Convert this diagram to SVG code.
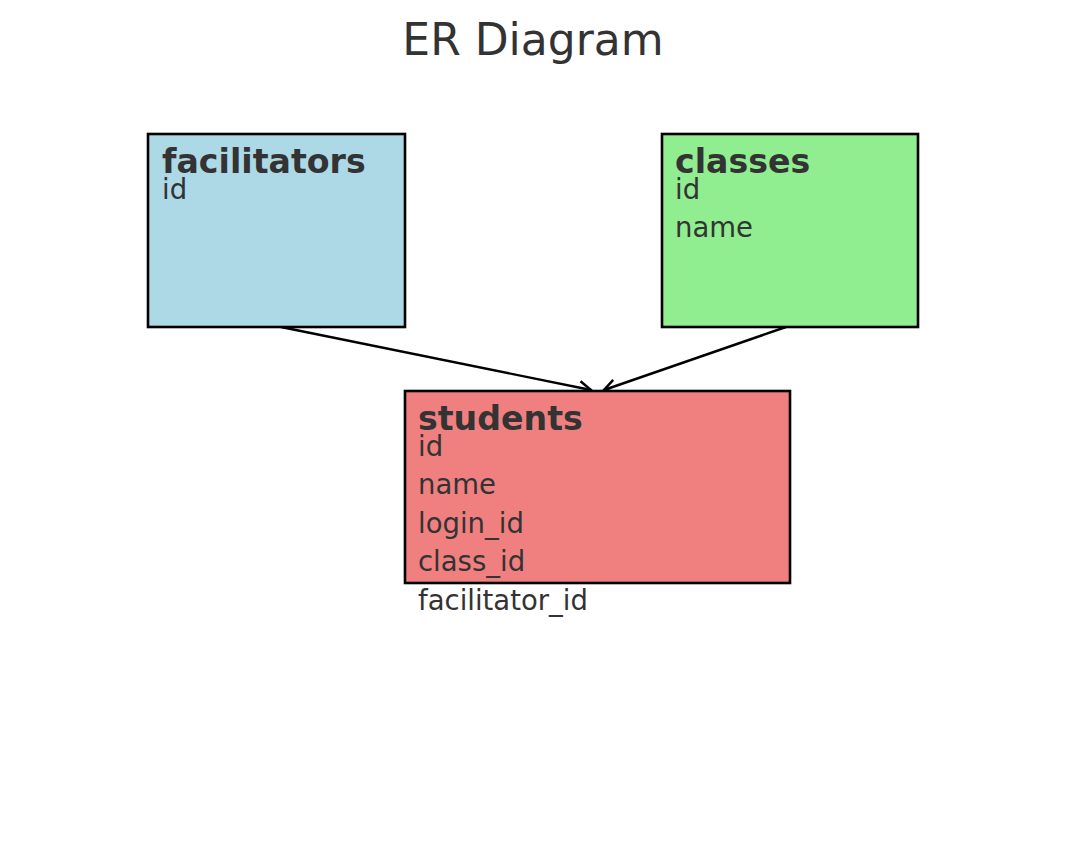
<svg xmlns="http://www.w3.org/2000/svg" width="1066" height="860" viewBox="0 0 1066 860">
<style>
text{font-family:"DejaVu Sans",sans-serif;fill:#333333}
.title{font-size:44px}
.hdr{font-size:33.2px;font-weight:bold}
.attr{font-size:27.5px}
.box{stroke:#000;stroke-width:2.6}
.edge{stroke:#000;stroke-width:2.4;fill:none}
</style>
<defs>
<marker id="arr" markerWidth="16" markerHeight="16" refX="13" refY="8" orient="auto" markerUnits="userSpaceOnUse">
<path d="M1,1.5 L13,8 L1,14.5" fill="none" stroke="#000" stroke-width="2.4"/>
</marker>
</defs>
<rect width="1066" height="860" fill="#fff"/>
<text class="title" x="533" y="55" text-anchor="middle">ER Diagram</text>
<g id="connectors">
<line class="edge" x1="281" y1="327" x2="591" y2="390" marker-end="url(#arr)"/>
<line class="edge" x1="786" y1="327" x2="604" y2="390" marker-end="url(#arr)"/>
</g>
<g id="facilitators">
<rect class="box" x="148" y="134" width="257" height="193" fill="#ADD8E6"/>
<text class="hdr" x="162" y="173">facilitators</text>
<text class="attr" x="162" y="199">id</text>
</g>
<g id="classes">
<rect class="box" x="662" y="134" width="256" height="193" fill="#90EE90"/>
<text class="hdr" x="675" y="173">classes</text>
<text class="attr" x="675" y="199">id</text>
<text class="attr" x="675" y="237">name</text>
</g>
<g id="students">
<rect class="box" x="405" y="391" width="385" height="192" fill="#F08080"/>
<text class="hdr" x="418" y="430">students</text>
<text class="attr" x="418" y="456">id</text>
<text class="attr" x="418" y="494">name</text>
<text class="attr" x="418" y="533">login_id</text>
<text class="attr" x="418" y="571">class_id</text>
<text class="attr" x="418" y="610">facilitator_id</text>
</g>
</svg>
